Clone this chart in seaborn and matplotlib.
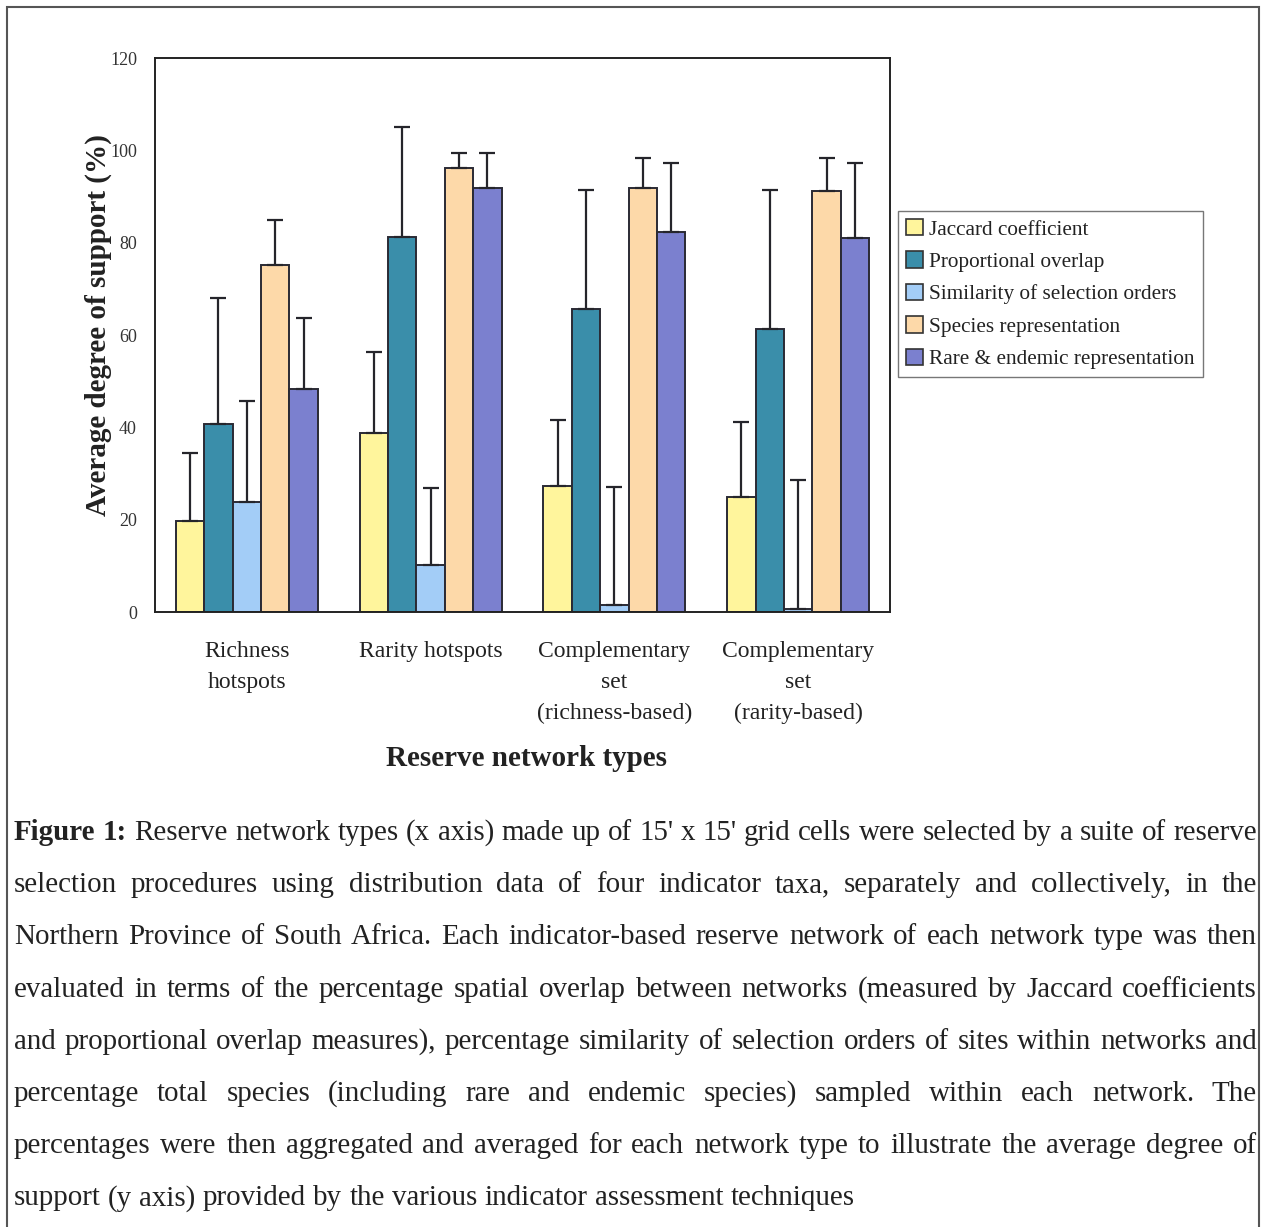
import matplotlib
matplotlib.use("Agg")
import matplotlib.pyplot as plt
import seaborn as sns
import pandas as pd
import numpy as np
from matplotlib.patches import Rectangle, Patch

# ---------------- data ----------------
networks = ["Richness\nhotspots", "Rarity hotspots",
            "Complementary\nset\n(richness-based)", "Complementary\nset\n(rarity-based)"]
measures = ["Jaccard coefficient", "Proportional overlap", "Similarity of selection orders",
            "Species representation", "Rare & endemic representation"]

jaccard = [19.7, 38.7, 27.3, 24.9]
proportional = [40.7, 81.3, 65.6, 61.4]
similarity = [23.9, 10.1, 1.5, 0.7]
species = [75.2, 96.1, 91.8, 91.1]
rare = [48.4, 91.9, 82.4, 81.0]

jaccard_err = [14.8, 17.6, 14.3, 16.3]
proportional_err = [27.3, 23.7, 25.7, 29.9]
similarity_err = [21.9, 16.7, 25.6, 28.0]
species_err = [9.7, 3.4, 6.5, 7.2]
rare_err = [15.2, 7.6, 14.8, 16.2]

yticks = [0, 20, 40, 60, 80, 100, 120]

colors = ["#FFF59C", "#3A8EAA", "#A3CDF7", "#FDD9A9", "#7B80CF"]

caption_lines = [
    "Figure 1: Reserve network types (x axis) made up of 15' x 15' grid cells were selected by a suite of reserve",
    "selection procedures using distribution data of four indicator taxa, separately and collectively, in the",
    "Northern Province of South Africa. Each indicator-based reserve network of each network type was then",
    "evaluated in terms of the percentage spatial overlap between networks (measured by Jaccard coefficients",
    "and proportional overlap measures), percentage similarity of selection orders of sites within networks and",
    "percentage total species (including rare and endemic species) sampled within each network. The",
    "percentages were then aggregated and averaged for each network type to illustrate the average degree of",
    "support (y axis) provided by the various indicator assessment techniques",
]

values = [jaccard, proportional, similarity, species, rare]
errors = [jaccard_err, proportional_err, similarity_err, species_err, rare_err]

rows = []
for m, vals in zip(measures, values):
    for n, v in zip(networks, vals):
        rows.append({"network": n, "measure": m, "value": v})
df = pd.DataFrame(rows)

# ---------------- figure ----------------
sns.set_style("white")
plt.rcParams["font.family"] = ["Liberation Serif", "DejaVu Serif"]

W, H = 1265, 1227
fig = plt.figure(figsize=(W / 100, H / 100), dpi=100)
fig.patch.set_facecolor("white")

ax = fig.add_axes([155 / W, 1 - 612 / H, (890 - 155) / W, (612 - 58) / H])

sns.barplot(data=df, x="network", y="value", hue="measure", order=networks,
            hue_order=measures, palette=colors, errorbar=None, width=0.773, gap=0,
            saturation=1, edgecolor="#2a2a34", linewidth=1.4, legend=False, ax=ax)

for cont, errs in zip(ax.containers, errors):
    xs = [p.get_x() + p.get_width() / 2 for p in cont]
    ys = [p.get_height() for p in cont]
    ax.errorbar(xs, ys, yerr=[np.zeros(len(errs)), errs], fmt="none", ecolor="#25252b",
                elinewidth=1.6, capsize=5.5, capthick=1.6, zorder=1)

ax.set_xlim(-0.5, 3.5)
ax.set_ylim(0, 120)
ax.set_yticks(yticks)
ax.set_yticklabels([str(t) for t in yticks], fontsize=13, color="#333333")
ax.tick_params(axis="y", length=0, pad=13)
ax.tick_params(axis="x", length=0, pad=21, labelsize=17, labelcolor="#222222")
for lab in ax.get_xticklabels():
    lab.set_linespacing(1.62)
    lab.set_horizontalalignment("center")
for s in ax.spines.values():
    s.set_visible(True)
    s.set_color("#222222")
    s.set_linewidth(1.4)

ax.set_ylabel("Average degree of support (%)", fontsize=21, fontweight="bold", color="#222222")
ax.yaxis.set_label_coords((112 - 155) / 735, (612 - 325) / 554)
ax.set_xlabel("Reserve network types", fontsize=21, fontweight="bold", color="#222222")
ax.xaxis.set_label_coords((527 - 155) / 735, (612 - 745) / 554)

handles = [Patch(facecolor=c, edgecolor="#333333", linewidth=1.2) for c in colors]
leg = fig.legend(handles, measures, loc="upper left",
                 bbox_to_anchor=(898 / W, 1 - 211 / H), frameon=True, fancybox=False,
                 edgecolor="#777777", framealpha=1, fontsize=15.3, handlelength=0.8,
                 handleheight=0.8, handletextpad=0.3, labelspacing=0.56, borderpad=0.38,
                 borderaxespad=0)
leg.get_frame().set_linewidth(1.0)
for t in leg.get_texts():
    t.set_color("#222222")

# outer border
fig.add_artist(Rectangle((7 / W, -0.05), (1259 - 7) / W, 1.05 - 7 / H, transform=fig.transFigure,
                         fill=False, edgecolor="#555555", linewidth=1.5, clip_on=False))

# ---------------- caption (justified) ----------------
fig.canvas.draw()
renderer = fig.canvas.get_renderer()
left_px, right_px = 14, 1257
base0, step = 840, 52.2
cap_size = 20.9

tmp1 = fig.text(0, 0, "a a", fontsize=cap_size)
tmp2 = fig.text(0, 0, "aa", fontsize=cap_size)
space_w = tmp1.get_window_extent(renderer).width - tmp2.get_window_extent(renderer).width
tmp1.remove()
tmp2.remove()

for i, line in enumerate(caption_lines):
    words = line.split(" ")
    texts = []
    for j, w in enumerate(words):
        bold = (i == 0 and j < 2)
        t = fig.text(0, 0, w, fontsize=cap_size, fontweight="bold" if bold else "normal",
                     color="#222222", va="baseline", ha="left")
        texts.append(t)
    widths = [t.get_window_extent(renderer).width for t in texts]
    if i < len(caption_lines) - 1:
        gap = (right_px - left_px - sum(widths)) / (len(words) - 1)
    else:
        gap = space_w
    x = left_px
    y = H - (base0 + i * step)
    for t, w in zip(texts, widths):
        t.set_position((x / W, y / H))
        x += w + gap

fig.savefig("out.png", dpi=100, facecolor="white")
